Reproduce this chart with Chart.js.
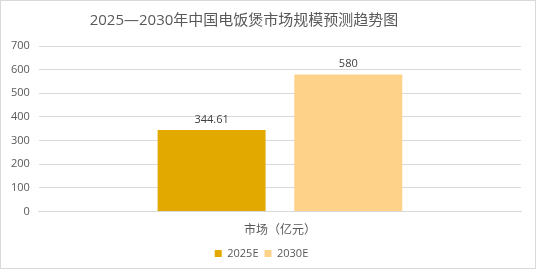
<!DOCTYPE html>
<html>
<head>
<meta charset="utf-8">
<script src="https://cdn.jsdelivr.net/npm/chart.js@4"></script>
<style>
  body { margin: 0; background: #fff; }
  #wrap { position: relative; width: 536px; height: 269px; }
  #frame { position: absolute; left: 0; top: 0; width: 536px; height: 269px; box-sizing: border-box; border: 1px solid #d9d9d9; pointer-events: none; }
</style>
</head>
<body>
<div id="wrap">
  <canvas id="marketChart" width="536" height="269"></canvas>
  <div id="frame"></div>
</div>
<script>
const chartTitle = "2025—2030年中国电饭煲市场规模预测趋势图";
const categories = ["市场（亿元）"];
const seriesNames = ["2025E", "2030E"];
const values2025 = [344.61];
const values2030 = [580];
const seriesColors = ["#E2A900", "#FFD28A"];
const fontFamily = "'Open Sans', 'Noto Sans CJK SC', sans-serif";

// draw the value labels on top of bars
const valueLabels = {
    id: "valueLabels",
    afterDatasetsDraw(chart) {
        const ctx = chart.ctx;
        ctx.save();
        ctx.font = "11px " + fontFamily;
        ctx.fillStyle = "#404040";
        ctx.textAlign = "center";
        ctx.textBaseline = "bottom";
        chart.data.datasets.forEach((ds, i) => {
            chart.getDatasetMeta(i).data.forEach((bar, j) => {
                ctx.fillText(String(ds.data[j]), bar.x, bar.y - 5);
            });
        });
        ctx.restore();
    }
};

// title drawn a bit left of center, like the original
const titlePlugin = {
    id: "titlePlugin",
    afterDraw(chart) {
        const ctx = chart.ctx;
        ctx.save();
        ctx.font = "15px " + fontFamily;
        ctx.fillStyle = "#595959";
        ctx.textAlign = "center";
        ctx.textBaseline = "middle";
        ctx.fillText(chartTitle, 244, 21);
        ctx.restore();
    }
};

const ctx = document.getElementById("marketChart").getContext("2d");

new Chart(ctx, {
    type: "bar",
    data: {
        labels: categories,
        datasets: [
            { label: seriesNames[0], data: values2025, backgroundColor: seriesColors[0] },
            { label: seriesNames[1], data: values2030, backgroundColor: seriesColors[1] }
        ]
    },
    options: {
        responsive: false,
        animation: false,
        categoryPercentage: 0.567,
        barPercentage: 0.79,
        layout: { padding: { top: 46, right: 15, left: 2, bottom: 0 } },
        plugins: {
            legend: {
                position: "bottom",
                labels: {
                    boxWidth: 7,
                    boxHeight: 7,
                    color: "#595959",
                    padding: 6,
                    font: { size: 11, family: fontFamily }
                }
            },
            tooltip: { enabled: false }
        },
        scales: {
            x: {
                grid: { display: false },
                border: { color: "#d9d9d9" },
                ticks: { color: "#595959", padding: 4, font: { size: 12, family: fontFamily } }
            },
            y: {
                min: 0,
                max: 700,
                ticks: { stepSize: 100, color: "#595959", padding: 9, font: { size: 11, family: fontFamily } },
                grid: { color: "#d9d9d9", drawTicks: false },
                border: { display: false }
            }
        }
    },
    plugins: [valueLabels, titlePlugin]
});
</script>
</body>
</html>
